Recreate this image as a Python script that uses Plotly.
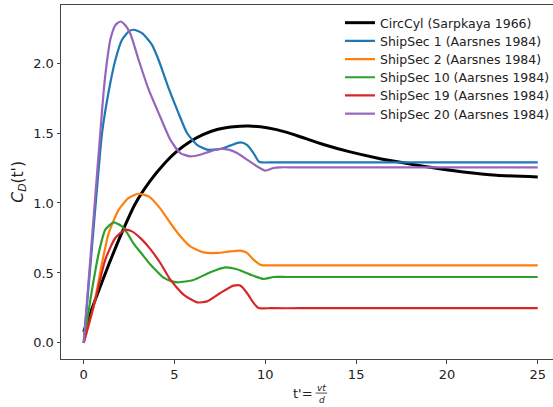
import plotly.graph_objects as go

# Drag coefficient histories C_D(t') for impulsively started bodies
t_circcyl = [0, 0.64, 1.38, 2.11, 2.84, 3.67, 4.4, 5.14, 5.87, 6.6, 7.34, 8.25, 9.1,
             10.09, 11.19, 12.0, 13.2, 14.67, 16.14, 17.6, 19.07, 20.9, 22.74, 25]
cd_circcyl = [0.08, 0.31, 0.56, 0.79, 0.995, 1.16, 1.275, 1.37, 1.44, 1.49, 1.525,
              1.545, 1.55, 1.537, 1.505, 1.47, 1.418, 1.365, 1.322, 1.287, 1.255, 1.222,
              1.198, 1.186]

t_ship1 = [0, 0.4, 0.73, 1.01, 1.38, 1.74, 2.11, 2.48, 2.75, 3.21, 3.76, 4.13, 4.65,
           5.18, 5.69, 6.24, 6.79, 7.52, 8.07, 8.62, 8.99, 9.35, 9.63, 9.8, 10.5, 12,
           15, 19, 22, 25]
cd_ship1 = [0, 0.6, 1.1, 1.5, 1.8, 2.02, 2.166, 2.226, 2.238, 2.214, 2.13, 2.02,
            1.83, 1.655, 1.5, 1.416, 1.381, 1.386, 1.41, 1.433, 1.416, 1.357, 1.297,
            1.29, 1.29, 1.29, 1.29, 1.29, 1.29, 1.29]

t_ship2 = [0, 0.55, 1.01, 1.38, 1.93, 2.48, 3.0, 3.58, 4.22, 4.77, 5.32, 5.87, 6.6,
           7.34, 8.07, 8.62, 8.99, 9.35, 9.72, 9.9, 10.6, 12, 15, 19, 22, 25]
cd_ship2 = [0, 0.261, 0.571, 0.786, 0.952, 1.036, 1.066, 1.047, 0.96, 0.857, 0.762,
            0.69, 0.647, 0.643, 0.654, 0.659, 0.643, 0.595, 0.559, 0.554, 0.554, 0.554,
            0.554, 0.554, 0.554, 0.554]

t_ship10 = [0, 0.46, 0.83, 1.19, 1.65, 2.11, 2.39, 2.75, 3.3, 3.67, 4.04, 4.4, 4.77,
            5.18, 6.05, 6.97, 7.8, 8.44, 9.17, 9.9, 10.45, 11.2, 13, 16, 19, 22, 25]
cd_ship10 = [0, 0.381, 0.643, 0.81, 0.861, 0.833, 0.786, 0.71, 0.62, 0.56, 0.51, 0.466,
             0.443, 0.433, 0.45, 0.505, 0.54, 0.526, 0.488, 0.457, 0.471, 0.471, 0.471,
             0.471, 0.471, 0.471, 0.471]

t_ship19 = [0, 0.64, 1.19, 1.74, 2.29, 2.66, 3.21, 3.67, 4.22, 4.77, 5.5, 6.24, 6.79,
            7.52, 8.25, 8.62, 8.99, 9.35, 9.63, 10.3, 12, 15, 19, 22, 25]
cd_ship19 = [0, 0.31, 0.595, 0.75, 0.809, 0.797, 0.738, 0.67, 0.571, 0.452, 0.345, 0.29,
             0.297, 0.357, 0.409, 0.41, 0.357, 0.286, 0.25, 0.248, 0.248, 0.248, 0.248,
             0.248, 0.248]

t_ship20 = [0, 0.45, 0.9, 1.1, 1.29, 1.47, 1.74, 2.02, 2.29, 2.57, 3.03, 3.58, 4.2,
            4.77, 5.32, 5.87, 6.42, 6.97, 7.52, 7.98, 8.44, 8.99, 9.54, 9.99, 10.45,
            10.82, 11.6, 13, 16, 19, 22, 25]
cd_ship20 = [0, 0.74, 1.48, 1.8, 2.02, 2.17, 2.27, 2.297, 2.27, 2.21, 2.02, 1.81,
             1.62, 1.452, 1.357, 1.333, 1.345, 1.369, 1.386, 1.381, 1.357, 1.31, 1.262,
             1.231, 1.25, 1.255, 1.255, 1.255, 1.255, 1.255, 1.255, 1.255]

series = [
    ("CircCyl (Sarpkaya 1966)", t_circcyl, cd_circcyl, "#000000", 3.0),
    ("ShipSec 1 (Aarsnes 1984)", t_ship1, cd_ship1, "#1f77b4", 2.2),
    ("ShipSec 2 (Aarsnes 1984)", t_ship2, cd_ship2, "#ff7f0e", 2.2),
    ("ShipSec 10 (Aarsnes 1984)", t_ship10, cd_ship10, "#2ca02c", 2.2),
    ("ShipSec 19 (Aarsnes 1984)", t_ship19, cd_ship19, "#d62728", 2.2),
    ("ShipSec 20 (Aarsnes 1984)", t_ship20, cd_ship20, "#9467bd", 2.2),
]

x_ticks = [0, 5, 10, 15, 20, 25]
y_ticks = [0.0, 0.5, 1.0, 1.5, 2.0]

FONT = "DejaVu Sans"
fig = go.Figure()

# one legend box per entry so the rows get a tight, even spacing
LEGEND_TOP = 0.949
LEGEND_STEP = 0.0514
legend_layout = {}
for i, (name, t, cd, color, lw) in enumerate(series):
    key = "legend" if i == 0 else f"legend{i + 1}"
    fig.add_trace(go.Scatter(
        x=t, y=cd, name=name, mode="lines", legend=key,
        line=dict(color=color, width=lw, shape="spline", smoothing=0.6),
    ))
    legend_layout[key] = dict(
        x=0.567, y=LEGEND_TOP - i * LEGEND_STEP, xanchor="left", yanchor="middle",
        bgcolor="rgba(0,0,0,0)", borderwidth=0,
        font=dict(family=FONT, size=12.5, color="#222"),
    )

axis_common = dict(
    showgrid=False, zeroline=False, showline=True, linecolor="#444", linewidth=1,
    ticks="outside", ticklen=3.5, tickwidth=1, tickcolor="#444",
    tickfont=dict(family=FONT, size=13, color="#222"),
)

fig.update_layout(
    width=553, height=407,
    margin=dict(l=60.6, r=0, t=5.2, b=47.6, autoexpand=False),
    paper_bgcolor="white", plot_bgcolor="white",
    font=dict(family=FONT, color="#222"),
    xaxis=dict(range=[-1.25, 25.84], tickvals=x_ticks,
               ticktext=[str(v) for v in x_ticks], mirror=True, **axis_common),
    yaxis=dict(range=[-0.115, 2.415], tickvals=y_ticks,
               ticktext=[f"{v:.1f}" for v in y_ticks], mirror=False, **axis_common),
    showlegend=True,
    **legend_layout,
)

# y-axis label C_D(t')
fig.add_annotation(
    xref="paper", yref="paper", x=-0.086, y=0.5, xanchor="center", yanchor="middle",
    text="<i>C</i><sub><i>D</i></sub>(t')", textangle=-90, showarrow=False,
    font=dict(family=FONT, size=15.5, color="#222"),
)

# x-axis label t' = vt/d, written as a stacked fraction
fig.add_annotation(
    xref="paper", yref="paper", x=0.5167, y=-0.0977, xanchor="right", yanchor="middle",
    text="t'=", showarrow=False, font=dict(family=FONT, size=13, color="#222"),
)
fig.add_annotation(
    xref="paper", yref="paper", x=0.530, y=-0.0807, xanchor="center", yanchor="middle",
    text="<i>vt</i>", showarrow=False, font=dict(family=FONT, size=9, color="#222"),
)
fig.add_annotation(
    xref="paper", yref="paper", x=0.530, y=-0.117, xanchor="center", yanchor="middle",
    text="<i>d</i>", showarrow=False, font=dict(family=FONT, size=9, color="#222"),
)
fig.add_shape(
    type="line", xref="paper", yref="paper", x0=0.5175, x1=0.541, y0=-0.0963,
    y1=-0.0963, line=dict(color="#222", width=0.8),
)

fig.write_html("out.html")
